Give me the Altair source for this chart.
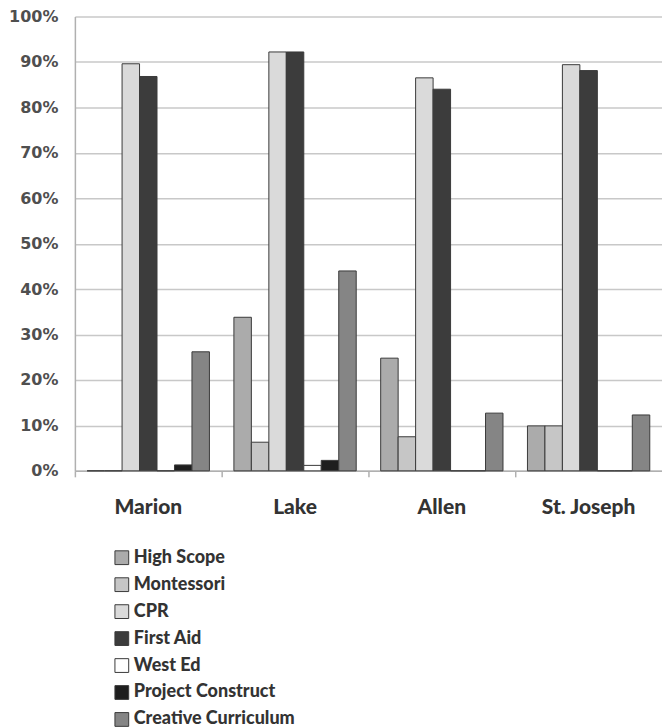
import altair as alt
import pandas as pd

counties = ["Marion", "Lake", "Allen", "St. Joseph"]
programs = ["High Scope", "Montessori", "CPR", "First Aid", "West Ed",
            "Project Construct", "Creative Curriculum"]
high_scope = [0.0, 0.338, 0.248, 0.099]
montessori = [0.0, 0.063, 0.075, 0.099]
cpr = [0.896, 0.922, 0.865, 0.894]
first_aid = [0.868, 0.922, 0.840, 0.881]
west_ed = [0.0, 0.012, 0.0, 0.0]
project_construct = [0.013, 0.023, 0.0, 0.0]
creative_curriculum = [0.262, 0.440, 0.127, 0.123]
colors = ["#ababab", "#c6c6c6", "#dadada", "#3c3c3c", "#ffffff", "#1e1e1e", "#858585"]

series = [high_scope, montessori, cpr, first_aid, west_ed, project_construct,
          creative_curriculum]
rows = []
for p, vals in zip(programs, series):
    for c, v in zip(counties, vals):
        rows.append({"county": c, "program": p, "value": v})
df = pd.DataFrame(rows)

chart = alt.Chart(df).mark_bar(stroke="#3a3a3a", strokeWidth=1).encode(
    x=alt.X("county:N", sort=counties, title=None,
            scale=alt.Scale(paddingInner=0, paddingOuter=0),
            axis=alt.Axis(bandPosition=0, labelOffset=0, labelAngle=0,
                          labelFont="Lato", labelFontWeight=900,
                          labelFontSize=21, labelColor="#333333",
                          labelPadding=20, ticks=True, tickSize=6,
                          tickColor="#b0b0b0", tickWidth=1.5,
                          domainColor="#b0b0b0", domainWidth=1.5, grid=False)),
    xOffset=alt.XOffset("program:N", sort=programs,
                        scale=alt.Scale(paddingInner=0, paddingOuter=0.7)),
    y=alt.Y("value:Q", title=None,
            scale=alt.Scale(domain=[0, 1], nice=False),
            axis=alt.Axis(format="%", values=[i / 10 for i in range(11)],
                          labelFont="DejaVu Sans", labelFontWeight="bold",
                          labelFontSize=16, labelColor="#4f4f4f",
                          labelPadding=17, ticks=False,
                          domainColor="#b0b0b0", domainWidth=1.5,
                          gridColor="#c8c8c8", gridWidth=1.5)),
    fill=alt.Fill("program:N", sort=programs,
                  scale=alt.Scale(domain=programs, range=colors),
                  legend=alt.Legend(title=None, orient="none", legendX=38,
                                    legendY=533, symbolType="square",
                                    symbolSize=190, symbolStrokeColor="#3a3a3a",
                                    symbolStrokeWidth=1, labelFont="Lato",
                                    labelFontWeight=900, labelFontSize=18,
                                    labelColor="#333333", rowPadding=9,
                                    labelOffset=3, labelLimit=400)),
).properties(
    width=588, height=455,
    padding={"left": 75, "top": 16, "right": 0, "bottom": 256},
    autosize=alt.AutoSizeParams(type="none"),
).configure_view(stroke=None)

chart.save("out.html", embed_options={"renderer": "svg", "actions": False})
